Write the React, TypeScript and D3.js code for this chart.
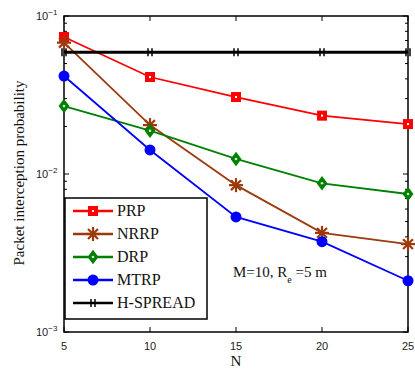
import React, { useEffect, useRef } from 'react';
import * as d3 from 'd3';

// chart data
const nValues = [5, 10, 15, 20, 25];
const seriesNames = ['PRP', 'NRRP', 'DRP', 'MTRP', 'H-SPREAD'];
const prp = [0.0736, 0.0411, 0.0307, 0.0234, 0.0207];
const nrrp = [0.0678, 0.0204, 0.0085, 0.00424, 0.0036];
const drp = [0.0269, 0.0188, 0.01245, 0.00873, 0.00747];
const mtrp = [0.0417, 0.0142, 0.00535, 0.00373, 0.00211];
const hspread = [0.059, 0.059, 0.059, 0.059, 0.059];
const yTickExps = [-1, -2, -3];

const colors = ['#ff0000', '#9c3a0c', '#008000', '#0000ff', '#000000'];
const markers = ['square', 'asterisk', 'diamond', 'circle', 'cross'];
const serif = "'Liberation Serif', 'Times New Roman', serif";
const sans = "'Liberation Sans', Arial, sans-serif";

const drawMarker = (g, kind, x, y, color) => {
  if (kind === 'square') {
    g.append('rect').attr('x', x - 5).attr('y', y - 5).attr('width', 10).attr('height', 10).attr('fill', color);
    g.append('rect').attr('x', x - 1).attr('y', y - 1).attr('width', 2).attr('height', 2).attr('fill', '#fff');
  } else if (kind === 'asterisk') {
    const r = 7;
    for (let a = 0; a < 4; a++) {
      const t = (a * Math.PI) / 4;
      g.append('line')
        .attr('x1', x - r * Math.cos(t)).attr('y1', y - r * Math.sin(t))
        .attr('x2', x + r * Math.cos(t)).attr('y2', y + r * Math.sin(t))
        .attr('stroke', color).attr('stroke-width', 2.2);
    }
  } else if (kind === 'diamond') {
    g.append('path')
      .attr('d', `M${x},${y - 6}L${x + 4.5},${y}L${x},${y + 6}L${x - 4.5},${y}Z`)
      .attr('fill', color).attr('stroke', color).attr('stroke-width', 1.5);
    g.append('circle').attr('cx', x).attr('cy', y).attr('r', 1.3).attr('fill', '#cfe8cf');
  } else if (kind === 'circle') {
    g.append('circle').attr('cx', x).attr('cy', y).attr('r', 5.5).attr('fill', color);
  } else {
    g.append('line').attr('x1', x - 2).attr('y1', y - 4).attr('x2', x - 2).attr('y2', y + 4).attr('stroke', color).attr('stroke-width', 1.5);
    g.append('line').attr('x1', x + 2).attr('y1', y - 4).attr('x2', x + 2).attr('y2', y + 4).attr('stroke', color).attr('stroke-width', 1.5);
  }
};

const Chart = () => {
  const ref = useRef(null);

  useEffect(() => {
    document.body.style.margin = '0';
    document.body.style.overflow = 'hidden';
    const svg = d3.select(ref.current);
    svg.selectAll('*').remove();

    const left = 64, right = 408, top = 16, bottom = 332;
    const x = d3.scaleLinear().domain([5, 25]).range([left, right]);
    const y = d3.scaleLog().domain([1e-3, 1e-1]).range([bottom, top]);

    // axes box
    svg.append('rect').attr('x', left).attr('y', top).attr('width', right - left).attr('height', bottom - top)
      .attr('fill', '#fff').attr('stroke', '#000').attr('stroke-width', 1.5);

    // x ticks
    nValues.forEach(v => {
      svg.append('line').attr('x1', x(v)).attr('x2', x(v)).attr('y1', bottom).attr('y2', bottom - 5).attr('stroke', '#000');
      svg.append('line').attr('x1', x(v)).attr('x2', x(v)).attr('y1', top).attr('y2', top + 5).attr('stroke', '#000');
      svg.append('text').text(v).attr('x', x(v)).attr('y', 350).attr('text-anchor', 'middle')
        .style('font-family', sans).attr('font-size', 11).attr('fill', '#222');
    });

    // y ticks (major + minor)
    const minor = [];
    [-3, -2].forEach(e => { for (let k = 2; k <= 9; k++) minor.push(k * Math.pow(10, e)); });
    minor.forEach(v => {
      svg.append('line').attr('x1', left).attr('x2', left + 3).attr('y1', y(v)).attr('y2', y(v)).attr('stroke', '#000');
      svg.append('line').attr('x1', right).attr('x2', right - 3).attr('y1', y(v)).attr('y2', y(v)).attr('stroke', '#000');
    });
    yTickExps.forEach(e => {
      const yy = y(Math.pow(10, e));
      svg.append('line').attr('x1', left).attr('x2', left + 5).attr('y1', yy).attr('y2', yy).attr('stroke', '#000');
      svg.append('line').attr('x1', right).attr('x2', right - 5).attr('y1', yy).attr('y2', yy).attr('stroke', '#000');
      const t = svg.append('text').attr('x', 36).attr('y', yy + 4)
        .style('font-family', sans).attr('font-size', 11).attr('fill', '#222');
      t.append('tspan').text('10');
      t.append('tspan').text('−' + Math.abs(e)).attr('dy', -5).attr('font-size', 8);
    });

    // series
    const allSeries = [prp, nrrp, drp, mtrp, hspread];
    const line = d3.line().x((d, i) => x(nValues[i])).y(d => y(d));
    allSeries.forEach((s, si) => {
      const g = svg.append('g');
      g.append('path').datum(s).attr('d', line).attr('fill', 'none')
        .attr('stroke', colors[si]).attr('stroke-width', si === 4 ? 3 : 1.8);
      s.forEach((v, i) => drawMarker(g, markers[si], x(nValues[i]), y(v), colors[si]));
    });

    // legend
    const lg = svg.append('g');
    lg.append('rect').attr('x', 65).attr('y', 198).attr('width', 142).attr('height', 121)
      .attr('fill', '#fff').attr('stroke', '#000').attr('stroke-width', 1.5);
    seriesNames.forEach((name, i) => {
      const ly = 211 + i * 23;
      lg.append('line').attr('x1', 73).attr('x2', 113).attr('y1', ly).attr('y2', ly)
        .attr('stroke', colors[i]).attr('stroke-width', 2.5);
      drawMarker(lg, markers[i], 93, ly, colors[i]);
      lg.append('text').text(name).attr('x', 117).attr('y', ly + 5)
        .style('font-family', serif).attr('font-size', 16).attr('fill', '#111');
    });

    // annotation
    const ann = svg.append('text').attr('x', 233).attr('y', 277)
      .style('font-family', serif).attr('font-size', 15).attr('fill', '#111');
    ann.append('tspan').text('M=10, R');
    ann.append('tspan').text('e').attr('dy', 6).attr('font-size', 10);
    ann.append('tspan').text(' =5 m').attr('dy', -6);

    // axis labels
    svg.append('text').text('N').attr('x', x(15)).attr('y', 366).attr('text-anchor', 'middle')
      .style('font-family', serif).attr('font-size', 15).attr('fill', '#111');
    svg.append('text').text('Packet interception probability')
      .attr('transform', `translate(24,${(top + bottom) / 2 - 1}) rotate(-90)`).attr('text-anchor', 'middle')
      .style('font-family', serif).attr('font-size', 15).attr('fill', '#111');
  }, []);

  return <svg ref={ref} width={415} height={370} style={{ display: 'block' }} />;
};

const App = () => (
  <div>
    <Chart />
  </div>
);

export default App;
